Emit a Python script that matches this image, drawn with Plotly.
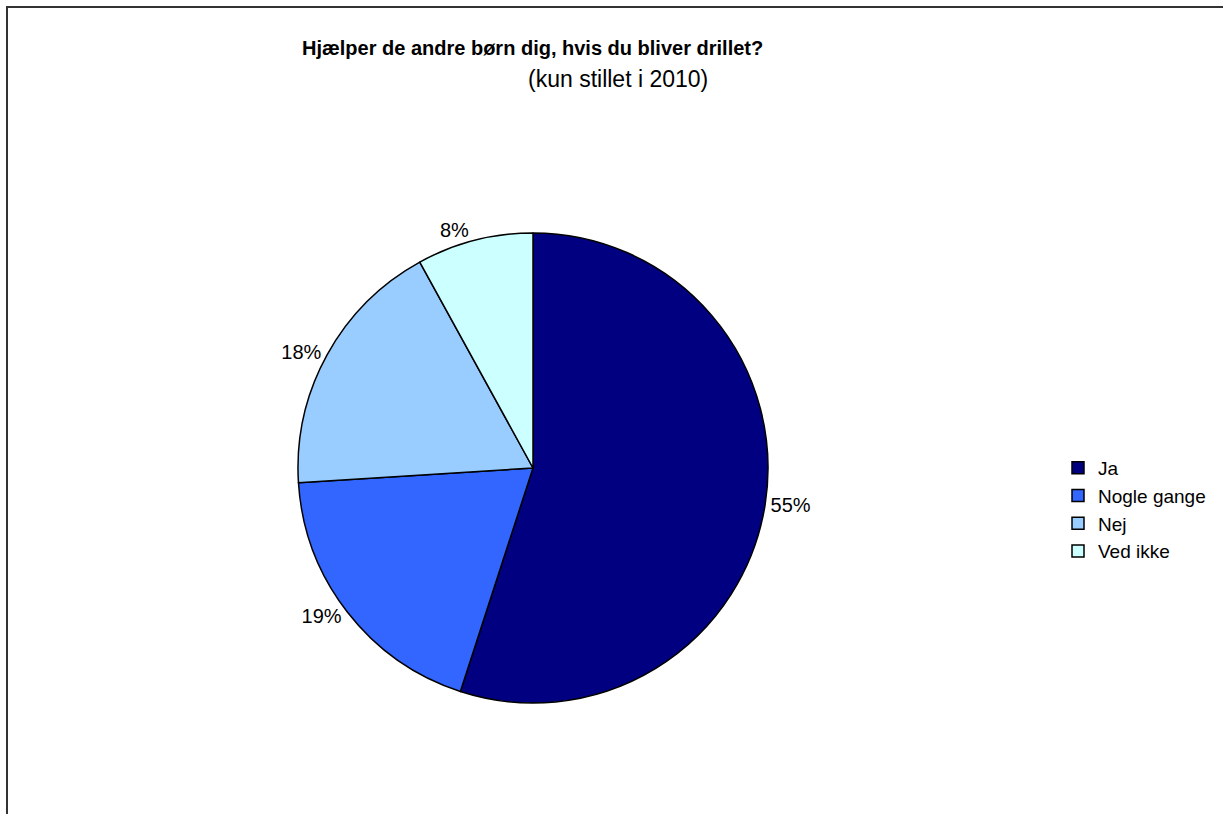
import plotly.graph_objects as go

categories = ["Ja", "Nogle gange", "Nej", "Ved ikke"]
values = [55, 19, 18, 8]
colors = ["#000080", "#3366FF", "#99CCFF", "#CCFFFF"]
title_text = "Hjælper de andre børn dig, hvis du bliver drillet?"
subtitle_text = "(kun stillet i 2010)"

W, H = 1223, 814
cx, cy, r = 533, 468, 235
FONT = "Liberation Sans, Arial, sans-serif"

fig = go.Figure(go.Pie(
    labels=categories,
    values=values,
    sort=False,
    direction="clockwise",
    rotation=0,
    marker=dict(colors=colors, line=dict(color="black", width=1.5)),
    textinfo="percent",
    texttemplate="%{percent:.0%}",
    textposition="outside",
    textfont=dict(family=FONT, size=20, color="black"),
    domain=dict(x=[(cx - r) / W, (cx + r) / W], y=[1 - (cy + r) / H, 1 - (cy - r) / H]),
    hoverinfo="label+percent",
))

fig.update_layout(
    width=W, height=H,
    margin=dict(l=0, r=0, t=0, b=0),
    paper_bgcolor="white",
    plot_bgcolor="white",
    font=dict(family=FONT, color="black"),
    showlegend=True,
    legend=dict(
        x=1058 / W, y=1 - 449 / H, xanchor="left", yanchor="top",
        font=dict(size=19, family=FONT),
        itemwidth=30, tracegroupgap=0,
    ),
    annotations=[
        dict(text="<b>" + title_text + "</b>",
             x=532 / W, y=1 - 48 / H, xref="paper", yref="paper",
             showarrow=False, font=dict(size=20), xanchor="center", yanchor="middle"),
        dict(text=subtitle_text,
             x=618 / W, y=1 - 79 / H, xref="paper", yref="paper",
             showarrow=False, font=dict(size=23), xanchor="center", yanchor="middle"),
    ],
    shapes=[
        dict(type="rect", xref="paper", yref="paper",
             x0=7 / W, x1=1.05, y0=-0.05, y1=1 - 7 / H,
             line=dict(color="#333333", width=2), fillcolor="rgba(0,0,0,0)"),
    ],
)

fig.write_html("out.html", config={"displayModeBar": False},
               post_script="document.body.style.margin='0px';")
